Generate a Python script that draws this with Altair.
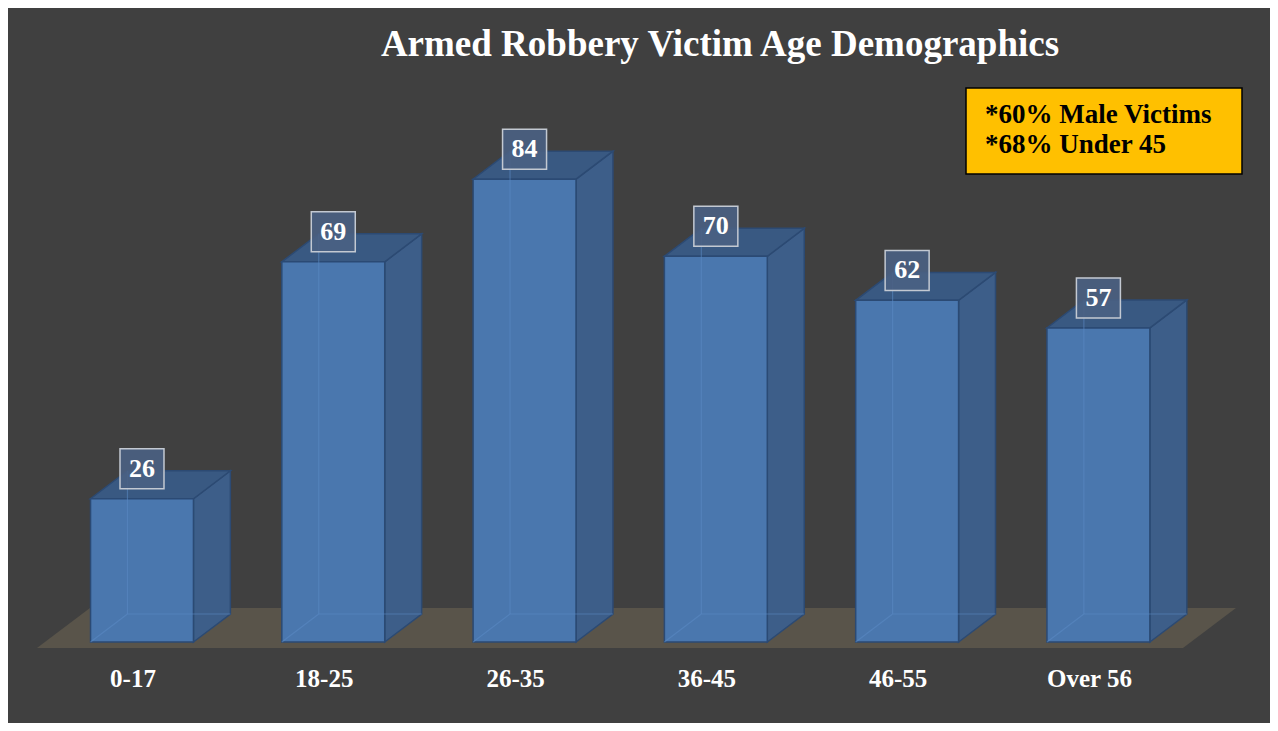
import altair as alt
import pandas as pd

# ---- data ----
categories = ["0-17", "18-25", "26-35", "36-45", "46-55", "Over 56"]
values = [26, 69, 84, 70, 62, 57]
title_text = "Armed Robbery Victim Age Demographics"
note_lines = ["*60% Male Victims", "*68% Under 45"]

# ---- 3D geometry parameters (in scale units) ----
HALF = 0.269      # half width of bar front face (category units)
DX = 0.193        # depth offset in x (category units)
DY = 5.08         # depth offset in y (value units)
W, H = 1262, 715

xs = alt.Scale(domain=[-0.7005, 5.897], nice=False, zero=False)
ys = alt.Scale(domain=[-14.7, 115.06], nice=False, zero=False)

FONT = "Liberation Serif"

idx = list(range(len(categories)))

# front faces
front = pd.DataFrame({
    "cat": categories,
    "x": [i - HALF for i in idx], "x2": [i + HALF for i in idx],
    "y": [0] * len(idx), "y2": values,
})

# side faces (vertical area, two x positions)
side_rows = []
for c, i, v in zip(categories, idx, values):
    side_rows.append({"cat": c, "x": i + HALF, "y": 0, "y2": v})
    side_rows.append({"cat": c, "x": i + HALF + DX, "y": DY, "y2": v + DY})
side = pd.DataFrame(side_rows)

# top faces (horizontal area, two y positions)
top_rows = []
for c, i, v in zip(categories, idx, values):
    top_rows.append({"cat": c, "y": v, "x": i - HALF, "x2": i + HALF})
    top_rows.append({"cat": c, "y": v + DY, "x": i - HALF + DX, "x2": i + HALF + DX})
top = pd.DataFrame(top_rows)

# hidden back edges seen through the translucent bars
edge_rows = []
for c, i, v in zip(categories, idx, values):
    edge_rows.append({"cat": c, "x": i - HALF + DX, "x2": i - HALF + DX, "y": DY, "y2": v + DY})
    edge_rows.append({"cat": c, "x": i - HALF + DX, "x2": i + HALF + DX, "y": DY, "y2": DY})
    edge_rows.append({"cat": c, "x": i - HALF, "x2": i - HALF + DX, "y": 0, "y2": DY})
edges = pd.DataFrame(edge_rows)

# floor
floor = pd.DataFrame({
    "y": [-1.09, 6.17],
    "x": [-0.549, -0.272],
    "x2": [5.442, 5.719],
})

# value label boxes
boxes = pd.DataFrame({
    "cat": categories,
    "x": [i - 0.115 for i in idx], "x2": [i + 0.115 for i in idx],
    "y": [v + 1.81 for v in values], "y2": [v + 9.07 for v in values],
    "ty": [v + 5.44 for v in values], "xc": idx, "label": [str(v) for v in values],
})

cat_labels = pd.DataFrame({"x": idx, "y": [-6.7] * len(idx), "label": categories})

floor_layer = alt.Chart(floor).mark_area(orient="horizontal", color="#59544a").encode(
    y=alt.Y("y:Q", scale=ys, axis=None),
    x=alt.X("x:Q", scale=xs, axis=None, stack=None),
    x2="x2:Q",
)

side_layer = alt.Chart(side).mark_area(
    orient="vertical", color="#3d5e89", stroke="#2c4a73", strokeWidth=1.5
).encode(
    x=alt.X("x:Q", scale=xs, axis=None),
    y=alt.Y("y:Q", scale=ys, axis=None, stack=None),
    y2="y2:Q",
    detail="cat:N",
)

top_layer = alt.Chart(top).mark_area(
    orient="horizontal", color="#395982", stroke="#2c4a73", strokeWidth=1.5
).encode(
    y=alt.Y("y:Q", scale=ys, axis=None),
    x=alt.X("x:Q", scale=xs, axis=None, stack=None),
    x2="x2:Q",
    detail="cat:N",
)

front_layer = alt.Chart(front).mark_rect(
    color="#4a77ae", stroke="#2b4a74", strokeWidth=1.5
).encode(
    x=alt.X("x:Q", scale=xs, axis=None), x2="x2:Q",
    y=alt.Y("y:Q", scale=ys, axis=None), y2="y2:Q",
)

edge_layer = alt.Chart(edges).mark_rule(color="#5b8ac4", strokeWidth=1.2, opacity=0.55).encode(
    x=alt.X("x:Q", scale=xs, axis=None), x2="x2:Q",
    y=alt.Y("y:Q", scale=ys, axis=None), y2="y2:Q",
)

box_layer = alt.Chart(boxes).mark_rect(
    fill="#4a6183", fillOpacity=0.9, stroke="#c3c9d2", strokeWidth=1.5
).encode(
    x=alt.X("x:Q", scale=xs, axis=None), x2="x2:Q",
    y=alt.Y("y:Q", scale=ys, axis=None), y2="y2:Q",
)

box_text = alt.Chart(boxes).mark_text(
    font=FONT, fontWeight="bold", fontSize=26, color="white", baseline="middle"
).encode(
    x=alt.X("xc:Q", scale=xs, axis=None),
    y=alt.Y("ty:Q", scale=ys, axis=None),
    text="label:N",
)

cat_text = alt.Chart(cat_labels).mark_text(
    font=FONT, fontWeight="bold", fontSize=25, color="white", baseline="middle", dx=-9
).encode(
    x=alt.X("x:Q", scale=xs, axis=None),
    y=alt.Y("y:Q", scale=ys, axis=None),
    text="label:N",
)

title_layer = alt.Chart(pd.DataFrame({"t": [title_text]})).mark_text(
    font=FONT, fontWeight="bold", fontSize=37, color="white", baseline="middle"
).encode(text="t:N", x=alt.value(712), y=alt.value(37))

note_box = alt.Chart(pd.DataFrame({"a": [1]})).mark_rect(
    fill="#ffc000", stroke="black", strokeWidth=1.5
).encode(x=alt.value(958), x2=alt.value(1234), y=alt.value(80), y2=alt.value(166))

note_text = alt.Chart(pd.DataFrame({"t": note_lines, "k": [0, 1]})).mark_text(
    font=FONT, fontWeight="bold", fontSize=27, color="black", baseline="middle", align="left"
).encode(
    text="t:N",
    x=alt.value(977),
    y=alt.Y("k:Q", scale=alt.Scale(domain=[0, 1], range=[107, 137]), axis=None),
)

chart = alt.layer(
    floor_layer, side_layer, top_layer, front_layer, edge_layer,
    box_layer, box_text, cat_text, title_layer, note_box, note_text,
).resolve_scale(y="independent").properties(
    width=W, height=H, padding=0, autosize="none", background="#404040"
).configure_view(stroke=None)

chart.save("out.html", embed_options={"renderer": "svg", "actions": False})
